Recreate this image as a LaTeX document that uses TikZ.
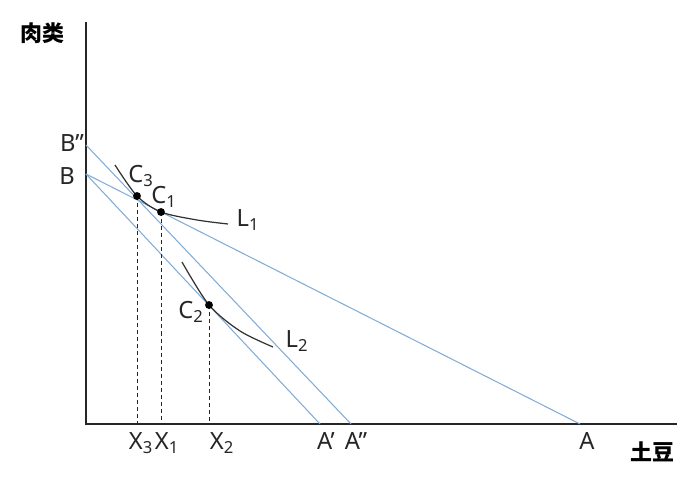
\documentclass[tikz,border=0pt]{standalone}
\usepackage{fontspec}
\setmainfont{Noto Sans}
\newfontfamily\cjk{Noto Sans CJK SC}
\usetikzlibrary{positioning}
\definecolor{budgetblue}{RGB}{130,172,214}
\tikzstyle{axis} = [draw=black!85, line width=0.8pt]
\tikzstyle{budget} = [draw=budgetblue, line width=0.6pt]
\tikzstyle{indiff} = [draw=black!80, line width=0.7pt]
\tikzstyle{drop} = [draw=black!85, line width=0.5pt, dash pattern=on 2.3pt off 1.7pt]
\tikzstyle{pt} = [circle, fill=black, inner sep=0pt, minimum size=4.5pt]
\tikzstyle{lbl} = [inner sep=0pt, text=black!85, font=\fontsize{13.5}{15}\selectfont]
\tikzstyle{axlbl} = [inner sep=0pt, font=\cjk\bfseries\fontsize{12.5}{14}\selectfont]

\begin{document}
\begin{tikzpicture}[x=0.02cm, y=-0.02cm]
  \useasboundingbox (0,0) rectangle (700,477);

  % axes
  \coordinate (O) at (86,424);
  \coordinate (ytop) at (86,22);
  \coordinate (xend) at (677,424);
  \draw [axis] (ytop) -- (O) -- (xend);

  % budget lines
  \coordinate (B) at (86,174);
  \coordinate (Bpp) at (86,145);
  \coordinate (A) at (580,424);
  \coordinate (Ap) at (320,424);
  \coordinate (App) at (351,424);
  \draw [budget] (B) -- (A);
  \draw [budget] (B) -- (Ap);
  \draw [budget] (Bpp) -- (App);

  % indifference curves
  \coordinate (C3) at (137,196);
  \coordinate (C1) at (161,212);
  \coordinate (C2) at (209,305);
  \draw [indiff] plot [smooth] coordinates {(115,165) (C3) (C1) (197,220) (228,224)};
  \draw [indiff] plot [smooth] coordinates {(182,262) (C2) (240,331) (273,347)};

  % drop lines
  \coordinate (X3) at (C3 |- O);
  \coordinate (X1) at (C1 |- O);
  \coordinate (X2) at (C2 |- O);
  \draw [drop] (C3) -- (X3);
  \draw [drop] (C1) -- (X1);
  \draw [drop] (C2) -- (X2);

  \node [pt] (p3) at (C3) {};
  \node [pt] (p1) at (C1) {};
  \node [pt] (p2) at (C2) {};

  % labels
  \node [axlbl] (meat) at (42,33) {肉类};
  \node [axlbl] (potato) at (652,452) {土豆};
  \node [lbl] (lBpp) at (72,143) {B”};
  \node [lbl] (lB) at (67,176) {B};
  \node [lbl] (lC3) at (141,176) {C\textsubscript{3}};
  \node [lbl] (lC1) at (164,197) {C\textsubscript{1}};
  \node [lbl] (lC2) at (191,312) {C\textsubscript{2}};
  \node [lbl] (lL1) at (248,220) {L\textsubscript{1}};
  \node [lbl] (lL2) at (297,341) {L\textsubscript{2}};
  \node [lbl] (lX3) at (141,443) {X\textsubscript{3}};
  \node [lbl] (lX1) at (167,443) {X\textsubscript{1}};
  \node [lbl] (lX2) at (222,443) {X\textsubscript{2}};
  \node [lbl] (lAp) at (326,441) {A’};
  \node [lbl] (lApp) at (356,441) {A”};
  \node [lbl] (lA) at (587,441) {A};
\end{tikzpicture}
\end{document}
